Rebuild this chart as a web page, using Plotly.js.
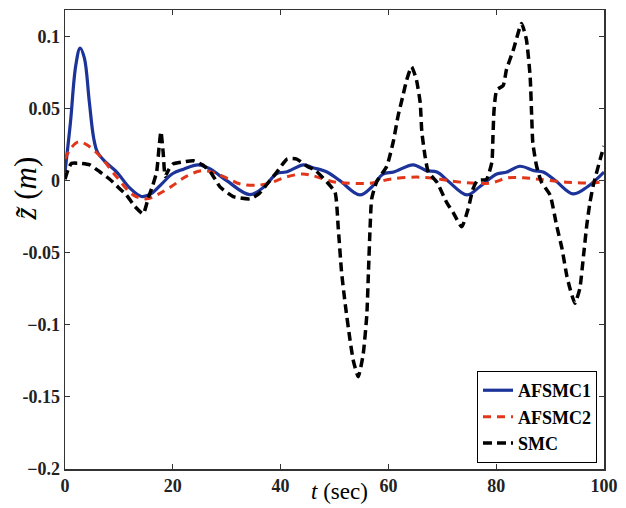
<!DOCTYPE html>
<html><head><meta charset="utf-8">
<script src="https://cdn.plot.ly/plotly-3.0.1.min.js"></script>
<style>html,body{margin:0;padding:0;background:#fff}#chart{width:626px;height:508px}</style>
</head><body><div id="chart"></div>
<script>
// AFSMC1 (blue solid)
const tA1 = [0,1,2,2.8,3.6,4.5,5.3,6,7.5,9.6,12,14.2,16,18,20,22,24.7,27,30,34.3,37,39.3,41,44.3,46,48.6,51,54.7,57,59,61,64.6,67,69,71,74.6,77,80.1,82,84.4,87,88.7,91,94.3,97,100];
const yA1 = [0.006,0.04,0.08,0.092,0.085,0.055,0.03,0.02,0.013,0.006,-0.005,-0.011,-0.009,-0.002,0.005,0.008,0.011,0.008,0.0,-0.0097,-0.004,0.005,0.006,0.011,0.009,0.006,0.0,-0.0099,-0.004,0.0046,0.006,0.011,0.007,0.006,0.0,-0.0099,-0.004,0.0046,0.006,0.010,0.007,0.006,0.0,-0.0092,-0.004,0.006];
// AFSMC2 (red dashed)
const tA2 = [0,1,2.5,4,6.5,9.6,12.7,15.2,17.5,20,22.5,25.5,28,30.5,32.5,36,38.5,41,44,46,49.7,52,57,60.3,65.3,69.6,73.3,79,82,85,88,93,97,100];
const yA2 = [0.015,0.022,0.027,0.025,0.017,0.0025,-0.010,-0.0126,-0.009,-0.0034,0.003,0.007,0.005,0.001,-0.0023,-0.003,-0.001,0.0025,0.0046,0.0034,-0.0007,-0.0016,-0.0016,0.001,0.0025,0.001,-0.001,-0.0016,0.0019,0.002,0.001,-0.001,-0.0016,-0.0007];
// SMC (black dashed)
const tS = [0,0.6,1.2,3,4.6,6.5,8.3,10,11.4,13,14.5,15.4,16.3,17,17.5,17.8,18.2,18.6,19.3,20,22,23.8,25.5,27,28.8,31.2,34.3,36,37.5,39.3,41.2,43,44.9,46.5,48.6,50.1,50.7,51.3,52,52.9,53.5,54.4,55.3,56,56.3,56.6,56.9,57.8,59.7,60.9,61.8,62.7,63.4,64.3,65.2,65.9,66.2,66.8,67.4,69,70.8,72,73.6,74.8,75.7,76.5,78.2,79.2,79.4,79.6,80.1,81.3,81.9,83.2,84.7,85.6,86.3,86.6,86.8,87.5,88.4,90,91.2,92.2,93.1,93.7,94.6,95.5,96.2,96.8,97.4,98,99.3,100];
const yS = [0.001,0.008,0.012,0.012,0.011,0.006,0.001,-0.005,-0.010,-0.018,-0.023,-0.0126,-0.003,0.006,0.025,0.034,0.02,0.003,0.008,0.0115,0.013,0.0138,0.011,0.006,-0.0045,-0.011,-0.0126,-0.009,-0.0023,0.006,0.015,0.015,0.010,0.007,-0.001,-0.008,-0.033,-0.063,-0.086,-0.111,-0.125,-0.136,-0.121,-0.093,-0.063,-0.033,-0.0126,-0.001,0.010,0.027,0.045,0.059,0.070,0.079,0.070,0.054,0.034,0.017,0.006,-0.001,-0.015,-0.022,-0.032,-0.0195,-0.0057,0.0,0.001,0.013,0.031,0.049,0.063,0.066,0.077,0.091,0.109,0.098,0.072,0.043,0.026,0.010,-0.001,-0.010,-0.031,-0.047,-0.066,-0.075,-0.085,-0.075,-0.052,-0.031,-0.015,-0.0034,0.015,0.024];

const seriesNames = ['AFSMC1','AFSMC2','SMC'];
const xTicks = [0,20,40,60,80,100];
const yTickVals = [0.1,0.05,0,-0.05,-0.1,-0.15,-0.2];
const yTickText = ['0.1','0.05','0','-0.05','\u22120.1','-0.15','\u22120.2'];

const serif = 'Liberation Serif';

const traces = [
  {x:tA1, y:yA1, name:seriesNames[0], mode:'lines', line:{color:'#1c3399', width:3.2, shape:'spline', smoothing:1}},
  {x:tA2, y:yA2, name:seriesNames[1], mode:'lines', line:{color:'#e2361a', width:3, dash:'8px,6px', shape:'spline', smoothing:1}},
  {x:tS, y:yS, name:seriesNames[2], mode:'lines', line:{color:'#000000', width:3.5, dash:'9px,5px', shape:'spline', smoothing:0.5}}
];

const layout = {
  width:626, height:508,
  margin:{l:65, r:22, t:10, b:39},
  paper_bgcolor:'#fff', plot_bgcolor:'#fff',
  font:{family:serif},
  showlegend:true,
  legend:{x:0.987, y:0.013, xanchor:'right', yanchor:'bottom', bgcolor:'#fff', bordercolor:'#000', borderwidth:1,
    font:{family:serif, size:18, color:'#000', weight:'bold'}, tracegroupgap:0},
  xaxis:{range:[0,100], tickvals:xTicks, ticktext:xTicks.map(String), showgrid:false, zeroline:false,
    showline:true, linecolor:'#333', linewidth:1.5, mirror:'ticks', ticks:'inside', ticklen:5, tickcolor:'#333',
    tickfont:{family:serif, size:18, color:'#222', weight:'bold'}},
  yaxis:{range:[-0.2,0.1184], tickvals:yTickVals, ticktext:yTickText, showgrid:false, zeroline:false,
    showline:true, linecolor:'#333', linewidth:1.5, mirror:'ticks', ticks:'inside', ticklen:5, tickcolor:'#333',
    tickfont:{family:serif, size:18, color:'#222', weight:'bold'}},
  annotations:[
    {xref:'paper', yref:'paper', x:0.51, y:-0.048, text:'<i>t</i> (sec)', showarrow:false,
     font:{family:serif, size:23, color:'#000'}, xanchor:'center', yanchor:'middle'},
    {xref:'paper', yref:'paper', x:-0.075, y:0.61, text:'<i>z\u0303</i> (<i>m</i>)', showarrow:false, textangle:-90,
     font:{family:serif, size:31, color:'#000'}, xanchor:'center', yanchor:'middle'}
  ]
};
Plotly.newPlot('chart', traces, layout, {displayModeBar:false, staticPlot:true});
</script></body></html>
